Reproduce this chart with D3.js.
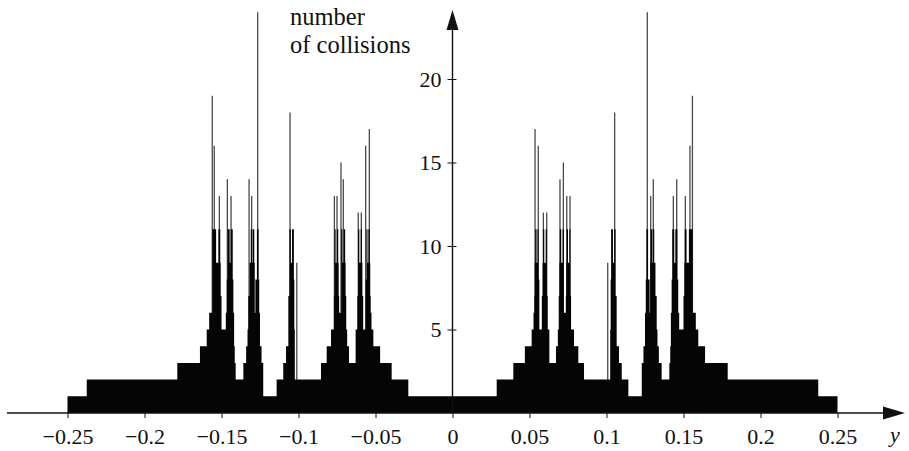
<!DOCTYPE html>
<html>
<head>
<meta charset="utf-8">
<script src="https://d3js.org/d3.v7.min.js"></script>
<style>
  body { margin: 0; background: #fff; }
</style>
</head>
<body>
<div id="chart"></div>
<script>
// step histogram, [from, to, number of collisions]
const binsLeft = [
  [-0.25, -0.2375, 1], [-0.2375, -0.1787, 2], [-0.1787, -0.164, 3], [-0.164, -0.1596, 4],
  [-0.1596, -0.158, 5], [-0.158, -0.156, 6], [-0.156, -0.1535, 11], [-0.1535, -0.152, 9],
  [-0.152, -0.1508, 11], [-0.1508, -0.1505, 9], [-0.1505, -0.15, 7], [-0.15, -0.1472, 5],
  [-0.1472, -0.1466, 6], [-0.1466, -0.146, 8], [-0.146, -0.1447, 11], [-0.1447, -0.144, 9],
  [-0.144, -0.1427, 11], [-0.1427, -0.1423, 8], [-0.1423, -0.1418, 6], [-0.1418, -0.1414, 4],
  [-0.1414, -0.1408, 3], [-0.1408, -0.1358, 2], [-0.1358, -0.134, 3], [-0.134, -0.1331, 4],
  [-0.1331, -0.1326, 5], [-0.1326, -0.1318, 7], [-0.1318, -0.131, 9], [-0.131, -0.13, 11],
  [-0.13, -0.1296, 9], [-0.1296, -0.1287, 11], [-0.1287, -0.1284, 9], [-0.1284, -0.128, 6],
  [-0.128, -0.127, 8], [-0.127, -0.1259, 11], [-0.1259, -0.1255, 8], [-0.1255, -0.125, 6],
  [-0.125, -0.124, 4], [-0.124, -0.1229, 3], [-0.1229, -0.1142, 1], [-0.1142, -0.1099, 2],
  [-0.1099, -0.1081, 3], [-0.1081, -0.1066, 4], [-0.1066, -0.1059, 7], [-0.1059, -0.105, 11],
  [-0.105, -0.1042, 9], [-0.1042, -0.103, 11], [-0.103, -0.1027, 8], [-0.1027, -0.1024, 5],
  [-0.1024, -0.0854, 2], [-0.0854, -0.0817, 3], [-0.0817, -0.0789, 4], [-0.0789, -0.077, 5],
  [-0.077, -0.0766, 7], [-0.0766, -0.0759, 11], [-0.0759, -0.075, 9], [-0.075, -0.0742, 11],
  [-0.0742, -0.0739, 9], [-0.0739, -0.0736, 7], [-0.0736, -0.0723, 6], [-0.0723, -0.0715, 11],
  [-0.0715, -0.0706, 9], [-0.0706, -0.0697, 11], [-0.0697, -0.0694, 9], [-0.0694, -0.069, 7],
  [-0.069, -0.0684, 5], [-0.0684, -0.0672, 4], [-0.0672, -0.0629, 3], [-0.0629, -0.0618, 5],
  [-0.0618, -0.0613, 7], [-0.0613, -0.0605, 11], [-0.0605, -0.0596, 9], [-0.0596, -0.0588, 11],
  [-0.0588, -0.0585, 9], [-0.0585, -0.058, 7], [-0.058, -0.0564, 5], [-0.0564, -0.0559, 8],
  [-0.0559, -0.0552, 11], [-0.0552, -0.0546, 9], [-0.0546, -0.0537, 11], [-0.0537, -0.0534, 9],
  [-0.0534, -0.0531, 7], [-0.0531, -0.0526, 6], [-0.0526, -0.0514, 5], [-0.0514, -0.047, 4],
  [-0.047, -0.0395, 3], [-0.0395, -0.0287, 2], [-0.0287, 0, 1]
];

const binsRight = [
  [0, 0.0287, 1], [0.0287, 0.0395, 2], [0.0395, 0.047, 3], [0.047, 0.0514, 4],
  [0.0514, 0.0526, 5], [0.0526, 0.0531, 6], [0.0531, 0.0534, 7], [0.0534, 0.0537, 9],
  [0.0537, 0.0546, 11], [0.0546, 0.0552, 9], [0.0552, 0.0559, 11], [0.0559, 0.0564, 8],
  [0.0564, 0.058, 5], [0.058, 0.0585, 7], [0.0585, 0.0588, 9], [0.0588, 0.0596, 11],
  [0.0596, 0.0605, 9], [0.0605, 0.0613, 11], [0.0613, 0.0618, 7], [0.0618, 0.0629, 5],
  [0.0629, 0.0672, 3], [0.0672, 0.0684, 4], [0.0684, 0.069, 5], [0.069, 0.0694, 7],
  [0.0694, 0.0697, 9], [0.0697, 0.0706, 11], [0.0706, 0.0715, 9], [0.0715, 0.0723, 11],
  [0.0723, 0.0736, 6], [0.0736, 0.0739, 7], [0.0739, 0.0742, 9], [0.0742, 0.075, 11],
  [0.075, 0.0759, 9], [0.0759, 0.0766, 11], [0.0766, 0.077, 7], [0.077, 0.0789, 5],
  [0.0789, 0.0817, 4], [0.0817, 0.0854, 3], [0.0854, 0.1024, 2], [0.1024, 0.1027, 5],
  [0.1027, 0.103, 8], [0.103, 0.1042, 11], [0.1042, 0.105, 9], [0.105, 0.1059, 11],
  [0.1059, 0.1066, 7], [0.1066, 0.1081, 4], [0.1081, 0.1099, 3], [0.1099, 0.1142, 2],
  [0.1142, 0.1229, 1], [0.1229, 0.124, 3], [0.124, 0.125, 4], [0.125, 0.1255, 6],
  [0.1255, 0.1259, 8], [0.1259, 0.127, 11], [0.127, 0.128, 8], [0.128, 0.1284, 6],
  [0.1284, 0.1287, 9], [0.1287, 0.1296, 11], [0.1296, 0.13, 9], [0.13, 0.131, 11],
  [0.131, 0.1318, 9], [0.1318, 0.1326, 7], [0.1326, 0.1331, 5], [0.1331, 0.134, 4],
  [0.134, 0.1358, 3], [0.1358, 0.1408, 2], [0.1408, 0.1414, 3], [0.1414, 0.1418, 4],
  [0.1418, 0.1423, 6], [0.1423, 0.1427, 8], [0.1427, 0.144, 11], [0.144, 0.1447, 9],
  [0.1447, 0.146, 11], [0.146, 0.1466, 8], [0.1466, 0.1472, 6], [0.1472, 0.15, 5],
  [0.15, 0.1505, 7], [0.1505, 0.1508, 9], [0.1508, 0.152, 11], [0.152, 0.1535, 9],
  [0.1535, 0.156, 11], [0.156, 0.158, 6], [0.158, 0.1596, 5], [0.1596, 0.164, 4],
  [0.164, 0.1787, 3], [0.1787, 0.2375, 2], [0.2375, 0.25, 1]
];

// thin tall spikes, [position, number of collisions]
const spikesLeft = [
  [-0.1560, 19], [-0.1547, 16], [-0.1514, 13], [-0.1462, 14], [-0.1438, 13], [-0.1321, 14],
  [-0.1304, 13], [-0.1265, 24], [-0.1055, 18], [-0.1011, 9], [-0.0767, 13], [-0.0750, 13],
  [-0.0724, 15], [-0.0709, 14], [-0.0612, 12], [-0.0592, 12], [-0.0564, 16], [-0.0540, 17]
];
const spikesRight = [
  [0.0536, 17], [0.0557, 16], [0.0590, 12], [0.0612, 12], [0.0698, 14], [0.0720, 15],
  [0.0742, 13], [0.0763, 13], [0.1008, 9], [0.1053, 18], [0.1265, 24], [0.1287, 13],
  [0.1304, 14], [0.1434, 13], [0.1456, 14], [0.1512, 13], [0.1542, 16], [0.1558, 19]
];

const xTicks = [-0.25, -0.2, -0.15, -0.1, -0.05, 0, 0.05, 0.1, 0.15, 0.2, 0.25];
const xTickLabels = ["\u22120.25", "\u22120.2", "\u22120.15", "\u22120.1", "\u22120.05", "0", "0.05", "0.1", "0.15", "0.2", "0.25"];
const yTicks = [5, 10, 15, 20];
const yTickLabels = ["5", "10", "15", "20"];

const serif = "'Liberation Serif', 'DejaVu Serif', 'Times New Roman', serif";

const width = 909, height = 451;
const svg = d3.select("#chart").append("svg")
    .attr("width", width)
    .attr("height", height);

const x = d3.scaleLinear().domain([-0.25, 0.25]).range([67.5, 837.5]);
const y = d3.scaleLinear().domain([0, 20]).range([413, 79]);

// spikes go first so the black steps cover their feet
svg.append("g").selectAll("line")
    .data(spikesLeft.concat(spikesRight))
    .enter()
    .append("line")
    .attr("x1", d => x(d[0]))
    .attr("x2", d => x(d[0]))
    .attr("y1", y(0))
    .attr("y2", d => y(d[1]))
    .attr("stroke", "#4a4a4a")
    .attr("stroke-width", 1.3);

// turn the bins into a step outline
function stepPoints(bins) {
    const pts = [];
    bins.forEach(b => { pts.push([b[0], b[2]]); pts.push([b[1], b[2]]); });
    return pts;
}
const area = d3.area()
    .x(d => x(d[0]))
    .y0(y(0))
    .y1(d => y(d[1]));

[binsLeft, binsRight].forEach(bins => {
    svg.append("path")
        .datum(stepPoints(bins))
        .attr("d", area)
        .attr("fill", "#050505");
});

// x axis with arrow
const xAxis = svg.append("g")
    .attr("transform", `translate(0,${y(0)})`)
    .call(d3.axisBottom(x).tickValues(xTicks).tickSize(5).tickFormat((d, i) => xTickLabels[i]));
xAxis.attr("font-family", serif);
xAxis.select(".domain").remove();
xAxis.selectAll(".tick line").attr("stroke", "#111");
xAxis.selectAll(".tick text")
    .attr("font-size", "22px")
    .attr("fill", "#111")
    .attr("y", 31)
    .attr("dy", 0);

svg.append("line")
    .attr("x1", 7).attr("x2", 886)
    .attr("y1", y(0)).attr("y2", y(0))
    .attr("stroke", "#111").attr("stroke-width", 1.4);
svg.append("path")
    .attr("d", `M905,${y(0)} L883,${y(0) - 6.5} L883,${y(0) + 6.5} Z`)
    .attr("fill", "#111");

// y axis on x = 0
const yAxis = svg.append("g")
    .attr("transform", `translate(${x(0)},0)`)
    .call(d3.axisLeft(y).tickValues(yTicks).tickSize(5).tickFormat((d, i) => yTickLabels[i]));
yAxis.attr("font-family", serif);
yAxis.select(".domain").remove();
yAxis.selectAll(".tick line").attr("x1", 4).attr("x2", -5).attr("stroke", "#111");
yAxis.selectAll(".tick text")
    .attr("font-size", "22px")
    .attr("fill", "#111")
    .attr("x", -11);

svg.append("line")
    .attr("x1", x(0)).attr("x2", x(0))
    .attr("y1", y(0)).attr("y2", 26)
    .attr("stroke", "#111").attr("stroke-width", 1.4);
svg.append("path")
    .attr("d", `M${x(0)},10 L${x(0) - 6},30 L${x(0) + 6},30 Z`)
    .attr("fill", "#111");

// axis titles
const titles = svg.append("g")
    .attr("font-family", serif)
    .attr("fill", "#111");
titles.append("text")
    .attr("x", 290).attr("y", 25)
    .attr("font-size", "24.5px")
    .text("number");
titles.append("text")
    .attr("x", 290).attr("y", 53)
    .attr("font-size", "24.5px")
    .text("of collisions");
titles.append("text")
    .attr("x", 890).attr("y", 442)
    .attr("font-size", "22px")
    .attr("font-style", "italic")
    .text("y");
</script>
</body>
</html>
